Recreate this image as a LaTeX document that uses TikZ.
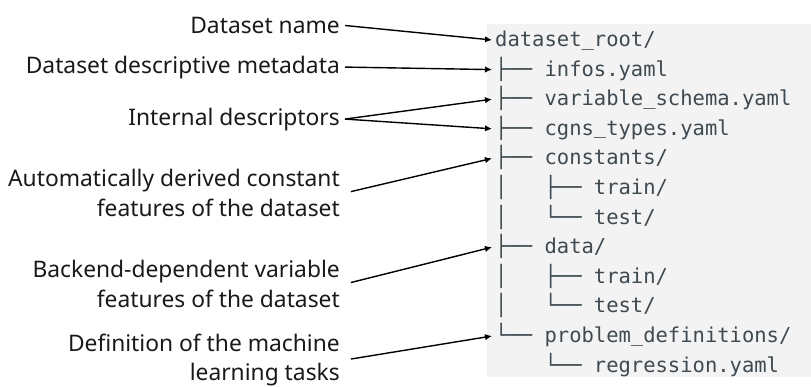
\documentclass[tikz,border=0pt]{standalone}
\usepackage{fontspec}
\setmainfont{Noto Sans}
\setmonofont{DejaVu Sans Mono}
\usetikzlibrary{arrows.meta}

\definecolor{boxgrey}{RGB}{243,243,243}
\definecolor{codegrey}{RGB}{62,74,80}

% underscore, lifted a little so it stays visible
\newcommand{\us}{\raisebox{1.5pt}{\char"5F}}

\tikzstyle{note}=[inner xsep=5pt, inner ysep=0pt, align=right, text=black!90, font=\fontsize{22.8}{29.6}\selectfont]
\tikzstyle{treeline}=[anchor=base west, inner xsep=3pt, inner ysep=0pt, text height=13pt, text depth=0pt, text=codegrey, font=\ttfamily\fontsize{20.5}{24}\selectfont]
\tikzstyle{arrow}=[line width=1.4pt, -{Latex[length=7pt, width=6.5pt]}]

\begin{document}
\begin{tikzpicture}[x=1pt, y=-1pt]
      \useasboundingbox (0,0) rectangle (811,386);
      \fill[boxgrey] (487,24) rectangle (811,377);

      % directory tree
      \node[treeline] (root) at (492, 46.5) {dataset\us root/};
      \node[treeline] (infos) at (492, 76.1) {├──~infos.yaml};
      \node[treeline] (schema) at (492, 105.7) {├──~variable\us schema.yaml};
      \node[treeline] (types) at (492, 135.3) {├──~cgns\us types.yaml};
      \node[treeline] (constants) at (492, 164.9) {├──~constants/};
      \node[treeline] (consttrain) at (492, 194.5) {│~~~├──~train/};
      \node[treeline] (consttest) at (492, 224.1) {│~~~└──~test/};
      \node[treeline] (data) at (492, 253.7) {├──~data/};
      \node[treeline] (datatrain) at (492, 283.3) {│~~~├──~train/};
      \node[treeline] (datatest) at (492, 312.9) {│~~~└──~test/};
      \node[treeline] (problems) at (492, 342.5) {└──~problem\us definitions/};
      \node[treeline] (regression) at (492, 372.1) {~~~~└──~regression.yaml};

      % descriptions
      \node[note, anchor=base east] (name) at (345, 33.5) {Dataset name};
      \node[note, anchor=base east] (metadata) at (345, 73) {Dataset descriptive metadata};
      \node[note, anchor=base east] (descriptors) at (345, 125) {Internal descriptors};
      \node[note, anchor=east] (constant) at (345, 193) {Automatically derived constant\\features of the dataset};
      \node[note, anchor=east] (variable) at (345, 284) {Backend-dependent variable\\features of the dataset};
      \node[note, anchor=east] (tasks) at (345, 360) {Definition of the machine\\learning tasks};

      \draw[arrow] (name.east) to (root.west);
      \draw[arrow] (metadata.east) to (infos.west);
      \draw[arrow] (descriptors.east) to (schema.west);
      \draw[arrow] (descriptors.east) to (types.west);
      \draw[arrow, shorten <=6pt] (constant.east) to (constants.west);
      \draw[arrow, shorten <=6pt] (variable.east) to (data.west);
      \draw[arrow, shorten <=6pt] (tasks.east) to (problems.west);
    \end{tikzpicture}
\end{document}
